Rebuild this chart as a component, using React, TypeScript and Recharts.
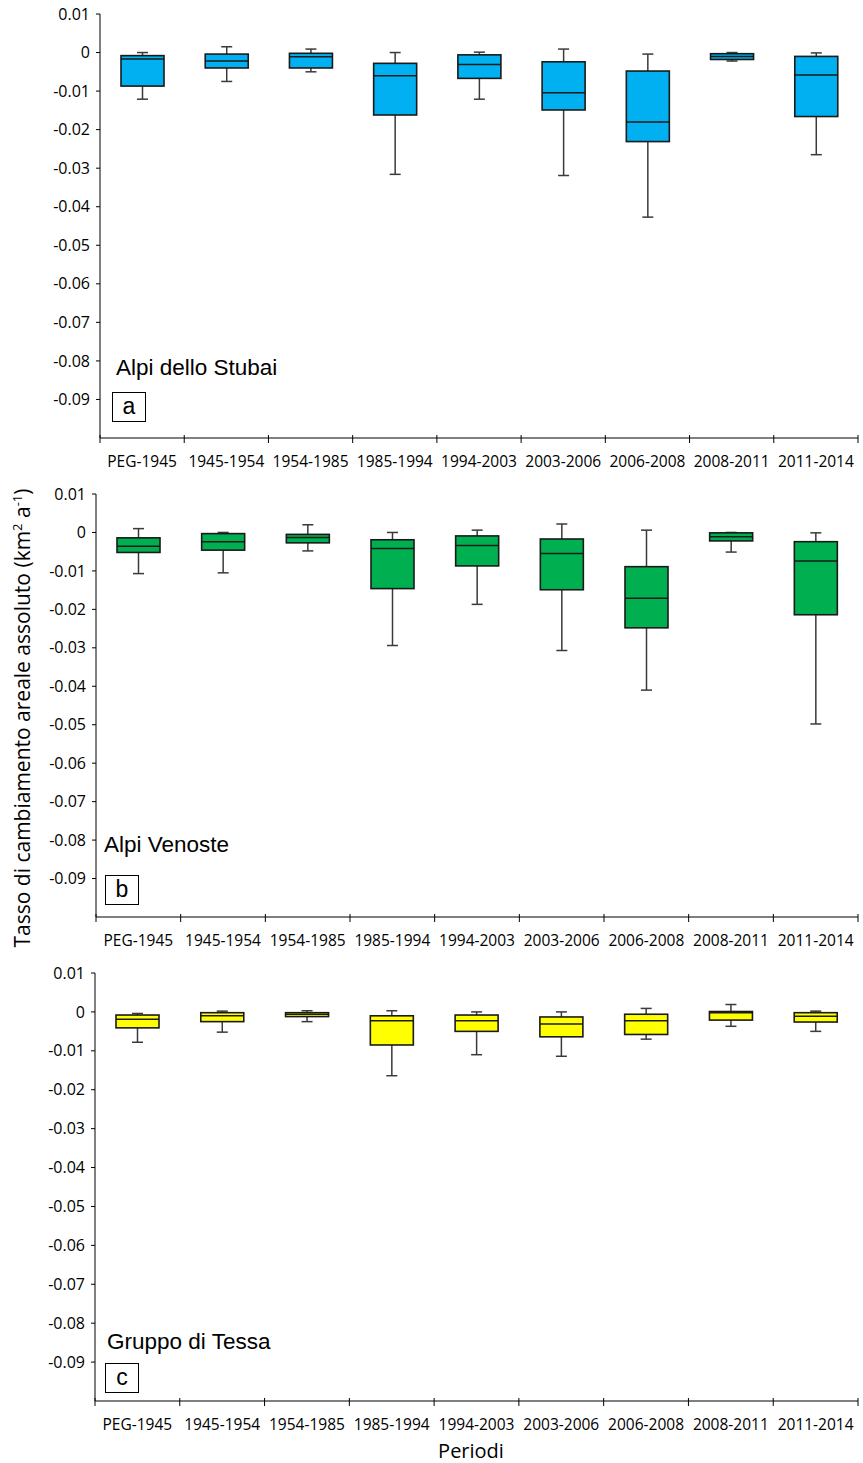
import React from 'react';
import { ComposedChart, Bar, XAxis, YAxis } from 'recharts';

const periods = ['PEG-1945', '1945-1954', '1954-1985', '1985-1994', '1994-2003', '2003-2006', '2006-2008', '2008-2011', '2011-2014'];
const yTicks = [0.01, 0, -0.01, -0.02, -0.03, -0.04, -0.05, -0.06, -0.07, -0.08, -0.09];

// Alpi dello Stubai
const stubaiMax = [0, 0.0015, 0.0009, 0, 0.0001, 0.0009, -0.0004, 0, -0.0001];
const stubaiQ3 = [-0.0008, -0.0004, -0.0002, -0.0028, -0.0006, -0.0024, -0.0048, -0.0003, -0.001];
const stubaiMedian = [-0.0017, -0.0022, -0.0011, -0.006, -0.0031, -0.0104, -0.018, -0.001, -0.0058];
const stubaiQ1 = [-0.0087, -0.004, -0.004, -0.0162, -0.0067, -0.0149, -0.0231, -0.0018, -0.0166];
const stubaiMin = [-0.0121, -0.0075, -0.005, -0.0316, -0.0121, -0.0319, -0.0427, -0.0022, -0.0265];

// Alpi Venoste
const venosteMax = [0.001, 0, 0.002, 0, 0.0006, 0.0022, 0.0006, 0, -0.0001];
const venosteQ3 = [-0.0014, -0.0003, -0.0005, -0.0019, -0.0009, -0.0017, -0.0089, -0.0001, -0.0024];
const venosteMedian = [-0.0036, -0.0024, -0.0013, -0.0042, -0.0034, -0.0055, -0.0171, -0.0011, -0.0074];
const venosteQ1 = [-0.0052, -0.0046, -0.0027, -0.0146, -0.0087, -0.0149, -0.0248, -0.0022, -0.0214];
const venosteMin = [-0.0107, -0.0105, -0.0048, -0.0294, -0.0187, -0.0307, -0.041, -0.0051, -0.0498];

// Gruppo di Tessa
const tessaMax = [-0.0004, 0.0002, 0.0003, 0.0003, 0, 0, 0.0009, 0.0019, 0.0002];
const tessaQ3 = [-0.0008, -0.0002, -0.0002, -0.001, -0.0008, -0.0013, -0.0006, 0.0001, -0.0002];
const tessaMedian = [-0.0019, -0.001, -0.0006, -0.0023, -0.0023, -0.0031, -0.0023, -0.0002, -0.0011];
const tessaQ1 = [-0.0041, -0.0025, -0.0012, -0.0085, -0.005, -0.0064, -0.0058, -0.0021, -0.0026];
const tessaMin = [-0.0078, -0.0052, -0.0025, -0.0164, -0.011, -0.0114, -0.007, -0.0037, -0.005];

const buildRows = (max: number[], q3: number[], med: number[], q1: number[], min: number[]) =>
  periods.map((p, i) => ({ period: p, max: max[i], q3: q3[i], median: med[i], q1: q1[i], min: min[i] }));

const W = 863;
const RIGHT = 5;
const XH = 40;

const BoxShape = (props: any) => {
  const { x, y, width, height, payload, fill } = props;
  const top = Math.min(y, y + height);
  const bot = Math.max(y, y + height);
  const span = payload.max - payload.min;
  const py = (v: number) => top + ((payload.max - v) / span) * (bot - top);
  const cx = x + width / 2;
  const cap = 5.5;
  const wc = '#3a3a3a';
  return (
    <g>
      <line x1={cx} x2={cx} y1={py(payload.max)} y2={py(payload.q3)} stroke={wc} strokeWidth={1.5} />
      <line x1={cx} x2={cx} y1={py(payload.q1)} y2={py(payload.min)} stroke={wc} strokeWidth={1.5} />
      <line x1={cx - cap} x2={cx + cap} y1={py(payload.max)} y2={py(payload.max)} stroke={wc} strokeWidth={1.5} />
      <line x1={cx - cap} x2={cx + cap} y1={py(payload.min)} y2={py(payload.min)} stroke={wc} strokeWidth={1.5} />
      <rect x={x} y={py(payload.q3)} width={width} height={py(payload.q1) - py(payload.q3)} fill={fill} stroke="#1a1a1a" strokeWidth={1.6} />
      <line x1={x} x2={x + width} y1={py(payload.median)} y2={py(payload.median)} stroke="#1a1a1a" strokeWidth={1.5} />
    </g>
  );
};

const makeTick = (bw: number) => (props: any) => {
  const { x, y, payload, index } = props;
  return (
    <g>
      <line x1={x - bw / 2} x2={x - bw / 2} y1={y - 3} y2={y + 5} stroke="#000" strokeWidth={1} />
      {index === periods.length - 1 && (
        <line x1={x + bw / 2} x2={x + bw / 2} y1={y - 3} y2={y + 5} stroke="#000" strokeWidth={1} />
      )}
      <text x={x} y={y + 29} textAnchor="middle" fontSize={15.5} fontFamily="'Open Sans'" fill="#000">
        {payload.value}
      </text>
    </g>
  );
};

const fmt = (v: number) => (v === 0 ? '0' : v.toFixed(2));

const Panel = ({ rows, color, yw, plotH }: { rows: any[]; color: string; yw: number; plotH: number }) => {
  const bw = (W - yw - RIGHT) / periods.length;
  return (
    <ComposedChart width={W} height={14 + plotH + XH} data={rows} margin={{ top: 14, right: RIGHT, bottom: 0, left: 0 }}>
      <XAxis
        dataKey="period"
        height={XH}
        tickLine={false}
        tickSize={0}
        tickMargin={0}
        axisLine={{ stroke: '#000', strokeWidth: 1 }}
        tick={makeTick(bw)}
        interval={0}
      />
      <YAxis
        type="number"
        width={yw}
        domain={[-0.1, 0.01]}
        ticks={yTicks}
        tickFormatter={fmt}
        allowDataOverflow
        interval={0}
        tickSize={4}
        tickMargin={6}
        axisLine={{ stroke: '#000', strokeWidth: 1 }}
        tickLine={{ stroke: '#000', strokeWidth: 1 }}
        tick={{ fontSize: 16, fontFamily: "'Open Sans'", fill: '#000' }}
      />
      <Bar dataKey={(d: any) => [d.min, d.max]} barSize={43} fill={color} shape={BoxShape} isAnimationActive={false} />
    </ComposedChart>
  );
};

const labelStyle: React.CSSProperties = {
  position: 'absolute',
  fontFamily: "'Liberation Sans', Arial, sans-serif",
  fontSize: 22.5,
  lineHeight: 1,
  color: '#000',
  whiteSpace: 'nowrap',
};

const boxStyle: React.CSSProperties = {
  position: 'absolute',
  width: 32,
  height: 28,
  border: '1.3px solid #000',
  fontFamily: "'Liberation Sans', Arial, sans-serif",
  fontSize: 23,
  lineHeight: '26px',
  textAlign: 'center',
  background: '#fff',
};

export default function App() {
  return (
    <div style={{ position: 'relative', width: W, height: 1463, background: '#fff', overflow: 'hidden' }}>
      <style>{'body{margin:0}'}</style>
      <div style={{ position: 'absolute', left: 0, top: 0 }}>
        <Panel rows={buildRows(stubaiMax, stubaiQ3, stubaiMedian, stubaiQ1, stubaiMin)} color="#00B0F0" yw={100} plotH={424} />
      </div>
      <div style={{ position: 'absolute', left: 0, top: 480 }}>
        <Panel rows={buildRows(venosteMax, venosteQ3, venosteMedian, venosteQ1, venosteMin)} color="#00B050" yw={96} plotH={423} />
      </div>
      <div style={{ position: 'absolute', left: 0, top: 959 }}>
        <Panel rows={buildRows(tessaMax, tessaQ3, tessaMedian, tessaQ1, tessaMin)} color="#FFFF00" yw={95} plotH={428} />
      </div>

      <div style={{ ...labelStyle, left: 116, top: 357 }}>Alpi dello Stubai</div>
      <div style={{ ...boxStyle, left: 112, top: 392 }}>a</div>
      <div style={{ ...labelStyle, left: 104, top: 834 }}>Alpi Venoste</div>
      <div style={{ ...boxStyle, left: 105, top: 875 }}>b</div>
      <div style={{ ...labelStyle, left: 107, top: 1331 }}>Gruppo di Tessa</div>
      <div style={{ ...boxStyle, left: 105, top: 1363 }}>c</div>

      <div
        style={{
          position: 'absolute',
          left: 22,
          top: 718,
          transform: 'translate(-50%, -50%) rotate(-90deg)',
          fontFamily: "'Open Sans'",
          fontSize: 21,
          whiteSpace: 'nowrap',
          lineHeight: 1,
        }}
      >
        Tasso di cambiamento areale assoluto (km<sup style={{ fontSize: 13 }}>2</sup> a<sup style={{ fontSize: 13 }}>-1</sup>)
      </div>
      <div
        style={{
          position: 'absolute',
          left: 471,
          top: 1451,
          transform: 'translate(-50%, -50%)',
          fontFamily: "'Open Sans'",
          fontSize: 20,
          whiteSpace: 'nowrap',
          lineHeight: 1,
        }}
      >
        Periodi
      </div>
    </div>
  );
}
